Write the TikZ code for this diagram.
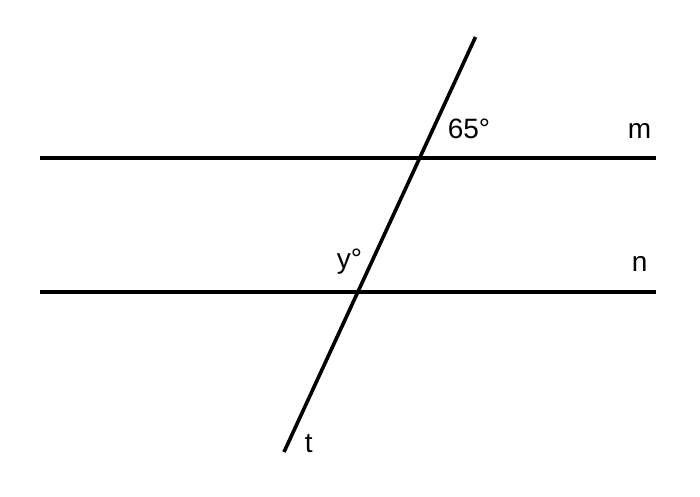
\documentclass[tikz,border=0pt]{standalone}
\usepackage{fontspec}
\setmainfont{Liberation Sans}
\usetikzlibrary{positioning}

\begin{document}
\begin{tikzpicture}[x=1pt, y=-1pt, line width=3.6pt]
   \tikzset{lbl/.style={inner sep=0pt, anchor=base west, font=\fontsize{28}{28}\selectfont}}
   \useasboundingbox (0,0) rectangle (700,496);
   % the two parallels and the transversal
   \coordinate (m1) at (40,158);
   \coordinate (m2) at (656,158);
   \coordinate (n1) at (40,292);
   \coordinate (n2) at (656,292);
   \coordinate (t1) at (475.5,37);
   \coordinate (t2) at (284,452);
   \draw (m1) -- (m2);
   \draw (n1) -- (n2);
   \draw (t1) -- (t2);
   % labels
   \node[lbl] (a65) at (446,138) {65°};
   \node[lbl] (lm) at (626,138) {m};
   \node[lbl] (ay) at (335,268) {y°};
   \node[lbl] (ln) at (630,271) {n};
   \node[lbl] (lt) at (303,452) {t};
\end{tikzpicture}
\end{document}
